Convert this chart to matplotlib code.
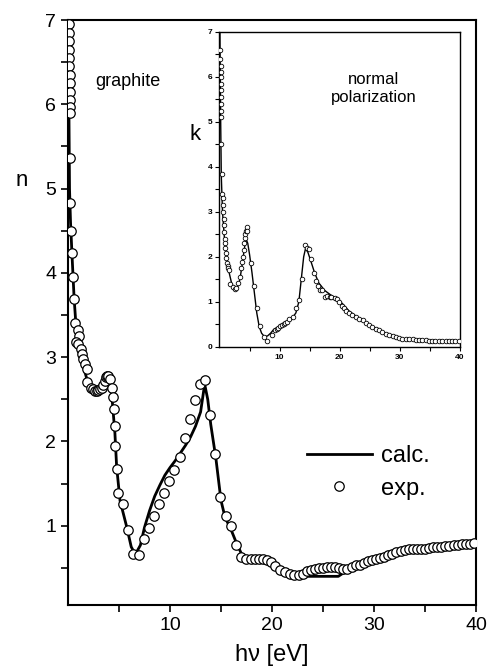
import matplotlib
matplotlib.use("Agg")
import matplotlib.pyplot as plt
from matplotlib.ticker import MultipleLocator, FixedLocator

plt.rcParams['font.family'] = ['Liberation Sans', 'DejaVu Sans']

# dados do painel principal: indice de refracao n
n_exp_x = [0.08, 0.10, 0.12, 0.12, 0.14, 0.13, 0.15, 0.15, 0.17, 0.17, 0.18, 0.18,
           0.16, 0.20, 0.29, 0.36, 0.46, 0.59, 0.68, 0.98, 1.07, 0.78, 1.00, 1.24,
           1.34, 1.50, 1.67, 1.83, 1.90, 2.30, 2.50, 2.65, 2.80, 2.97, 3.10, 3.30,
           3.45, 3.60, 3.70, 3.80, 3.95, 4.10, 4.35, 4.45, 4.48, 4.57, 4.64, 4.77,
           4.87, 5.40, 5.90, 6.40, 6.93, 7.42, 7.90, 8.43, 8.95, 9.44, 9.93, 10.42,
           10.95, 11.44, 11.93, 12.45, 12.94, 13.43, 13.95, 14.44, 14.93, 15.45,
           15.95, 16.47, 16.96, 17.45, 17.9, 18.3, 18.7, 19.1, 19.5, 19.9, 20.3,
           20.8, 21.3, 21.8, 22.2, 22.6, 23.0, 23.4, 23.8, 24.2, 24.6, 25.0, 25.4,
           25.8, 26.2, 26.6, 27.0, 27.4, 27.8, 28.2, 28.6, 29.0, 29.4, 29.8, 30.2,
           30.6, 31.0, 31.4, 31.8, 32.2, 32.6, 33.0, 33.4, 33.8, 34.2, 34.6, 35.0,
           35.4, 35.8, 36.2, 36.6, 37.0, 37.4, 37.8, 38.2, 38.6, 39.0, 39.4, 39.8]
n_exp_y = [6.95, 6.85, 6.75, 6.65, 6.55, 6.45, 6.35, 6.25, 6.15, 6.05, 5.97, 5.90,
           5.36, 4.83, 4.50, 4.24, 3.95, 3.69, 3.40, 3.32, 3.25, 3.18, 3.16, 3.10,
           3.04, 2.98, 2.92, 2.86, 2.70, 2.64, 2.62, 2.60, 2.60, 2.61, 2.62, 2.64,
           2.67, 2.72, 2.76, 2.78, 2.78, 2.74, 2.63, 2.53, 2.38, 2.18, 1.95, 1.67,
           1.39, 1.26, 0.95, 0.67, 0.65, 0.84, 0.97, 1.11, 1.26, 1.39, 1.53, 1.66,
           1.82, 2.04, 2.27, 2.49, 2.68, 2.73, 2.32, 1.85, 1.34, 1.11,
           1.00, 0.77, 0.63, 0.60, 0.61, 0.61, 0.60, 0.60, 0.59, 0.57, 0.52,
           0.47, 0.45, 0.43, 0.42, 0.42, 0.43, 0.46, 0.48, 0.49, 0.50, 0.50, 0.51,
           0.51, 0.51, 0.50, 0.49, 0.49, 0.51, 0.53, 0.54, 0.56, 0.58, 0.59, 0.60,
           0.62, 0.63, 0.65, 0.67, 0.69, 0.70, 0.71, 0.72, 0.72, 0.73, 0.73, 0.73,
           0.74, 0.75, 0.75, 0.75, 0.76, 0.76, 0.77, 0.77, 0.78, 0.78, 0.78, 0.79]

n_calc_x = [0.05, 0.10, 0.15, 0.25, 0.40, 0.60, 0.80, 1.00, 1.30, 1.60, 1.90, 2.30,
            2.80, 3.30, 3.70, 4.00, 4.28, 4.60, 4.77, 5.10, 5.75, 6.20, 6.60, 7.10,
            7.50, 8.00, 8.50, 9.00, 9.50, 10.0, 10.5, 11.0, 11.5, 12.0, 12.5, 13.0,
            13.4, 13.7, 14.0, 14.5, 15.0, 15.4, 16.0, 16.5, 17.0, 17.5, 18.0, 19.0,
            19.5, 20.0, 20.5, 21.0, 21.5, 22.0, 22.5, 23.0, 23.5, 26.5, 27.0, 27.5,
            28.0, 29.0, 30.0, 32.0, 34.0, 36.0, 38.0, 40.0]
n_calc_y = [7.50, 5.80, 5.00, 4.60, 4.20, 3.70, 3.35, 3.15, 3.00, 2.85, 2.72, 2.63,
            2.60, 2.63, 2.70, 2.72, 2.57, 2.10, 1.70, 1.30, 0.99, 0.75, 0.66, 0.77,
            0.98, 1.18, 1.35, 1.48, 1.60, 1.69, 1.77, 1.86, 1.95, 2.05, 2.18, 2.35,
            2.68, 2.50, 2.20, 1.80, 1.30, 1.10, 0.95, 0.80, 0.67, 0.61, 0.60, 0.60,
            0.59, 0.56, 0.50, 0.46, 0.44, 0.43, 0.42, 0.41, 0.40, 0.40, 0.44, 0.48,
            0.52, 0.56, 0.60, 0.69, 0.72, 0.75, 0.77, 0.79]

# dados do detalhe: coeficiente de extincao k
k_exp_x = [0.15, 0.15, 0.17, 0.18, 0.18, 0.20, 0.20, 0.22, 0.22, 0.25, 0.25, 0.30,
           0.35, 0.45, 0.55, 0.60, 0.65, 0.70, 0.75, 0.80, 0.85, 0.90, 0.95, 1.00,
           1.10, 1.26, 1.40, 1.48, 1.65, 1.76, 2.20, 2.60, 2.80, 3.10, 3.40, 3.60,
           3.80, 3.90, 4.00, 4.10, 4.20, 4.30, 4.40, 4.50, 4.60, 5.30, 5.80, 6.30,
           6.80, 7.40, 7.90, 8.70, 9.30, 9.60, 9.80, 10.1, 10.4, 10.7, 10.9, 11.2,
           11.6, 12.3, 12.8, 13.3, 13.8, 14.3, 14.6, 14.9, 15.2, 15.7, 16.1, 16.4,
           16.7, 17.0, 17.5, 17.9, 18.3, 18.6, 19.2, 19.6, 19.9, 20.3, 20.7, 21.1,
           21.6, 22.1, 22.7, 23.2, 23.8, 24.3, 24.9, 25.4, 26.0, 26.6, 27.1, 27.7,
           28.2, 28.8, 29.3, 29.9, 30.4, 31.0, 31.5, 32.1, 32.6, 33.2, 33.7, 34.3,
           34.8, 35.4, 35.9, 36.5, 37.0, 37.6, 38.1, 38.7, 39.2, 39.8]
k_exp_y = [6.60, 6.40, 6.25, 6.10, 6.00, 5.85, 5.70, 5.55, 5.40, 5.25, 5.10, 4.50,
           3.85, 3.40, 3.30, 3.15, 3.00, 2.85, 2.70, 2.55, 2.40, 2.30, 2.20, 2.08,
           1.97, 1.86, 1.80, 1.75, 1.70, 1.40, 1.32, 1.28, 1.30, 1.42, 1.56, 1.75,
           1.89, 2.00, 2.15, 2.30, 2.41, 2.50, 2.58, 2.66, 2.58, 1.86, 1.35, 0.86,
           0.45, 0.21, 0.13, 0.26, 0.37, 0.40, 0.42, 0.45, 0.48, 0.50, 0.53, 0.56,
           0.61, 0.67, 0.86, 1.04, 1.50, 2.26, 2.20, 2.17, 1.95, 1.63, 1.45, 1.35,
           1.26, 1.25, 1.11, 1.12, 1.10, 1.11, 1.08, 1.05, 1.00, 0.90, 0.86, 0.80,
           0.74, 0.70, 0.67, 0.62, 0.59, 0.53, 0.48, 0.44, 0.40, 0.37, 0.33, 0.29,
           0.26, 0.23, 0.21, 0.20, 0.18, 0.17, 0.17, 0.16, 0.15, 0.15, 0.14, 0.14,
           0.13, 0.13, 0.13, 0.13, 0.13, 0.13, 0.13, 0.13, 0.13, 0.13]

k_calc_x = [0.05, 0.10, 0.20, 0.30, 0.50, 0.80, 1.20, 1.60, 2.00, 2.40, 2.70, 3.00,
            3.40, 3.80, 4.10, 4.40, 4.70, 5.00, 5.40, 5.80, 6.20, 6.60, 7.00, 7.50,
            8.00, 8.50, 9.00, 10.0, 11.0, 12.0, 12.7, 13.2, 13.6, 14.0, 14.3, 14.7,
            15.2, 15.8, 16.5, 17.5, 18.5, 19.5, 20.5, 21.5, 22.5, 23.5, 25.0, 26.5,
            28.0, 30.0, 32.0, 35.0, 40.0]
k_calc_y = [7.50, 6.50, 5.00, 3.80, 3.00, 2.45, 2.00, 1.65, 1.42, 1.30, 1.27, 1.32,
            1.50, 1.85, 2.15, 2.40, 2.30, 2.05, 1.65, 1.20, 0.75, 0.45, 0.30, 0.22,
            0.24, 0.30, 0.38, 0.45, 0.53, 0.62, 0.75, 1.00, 1.50, 2.00, 2.18, 2.10,
            1.90, 1.65, 1.42, 1.25, 1.15, 1.07, 0.95, 0.80, 0.70, 0.60, 0.48, 0.37,
            0.27, 0.19, 0.15, 0.13, 0.12]

fig = plt.figure(figsize=(4.87, 6.72), dpi=100)

# painel principal
ax = fig.add_axes([0.1396, 0.0997, 0.8378, 0.8705])
ax.plot(n_calc_x, n_calc_y, color="black", lw=2.0, label="calc.", zorder=2)
ax.plot(n_exp_x, n_exp_y, "o", mfc="white", mec="black", mew=0.9, ms=6.8,
        label="exp.", zorder=3)
ax.set_xlim(0, 40)
ax.set_ylim(0.06, 7)
ax.xaxis.set_major_locator(FixedLocator([10, 20, 30, 40]))
ax.xaxis.set_minor_locator(FixedLocator([5, 15, 25, 35]))
ax.yaxis.set_major_locator(FixedLocator([1, 2, 3, 4, 5, 6, 7]))
ax.yaxis.set_minor_locator(MultipleLocator(0.5))
ax.tick_params(which="both", direction="out", top=False, right=False,
               labelsize=14, width=1.2, length=5)
for s in ax.spines.values():
    s.set_linewidth(1.5)
ax.set_xlabel("h\u03bd [eV]", fontsize=17, labelpad=7)
ax.set_ylabel("n", fontsize=16, rotation=0, va="center", ha="center")
ax.yaxis.set_label_coords(-0.113, 0.726)
ax.text(0.066, 0.887, "graphite", transform=ax.transAxes, fontsize=13,
        va="baseline")
ax.legend(loc="center left", bbox_to_anchor=(0.585, 0.227), frameon=False,
          fontsize=17, handlelength=2.75, handletextpad=0.4, numpoints=1,
          borderpad=0, borderaxespad=0, labelspacing=0.45)

# detalhe
ins = fig.add_axes([0.4507, 0.4841, 0.4939, 0.4683])
ins.plot(k_calc_x, k_calc_y, color="black", lw=1.0, zorder=2)
ins.plot(k_exp_x, k_exp_y, "o", mfc="white", mec="black", mew=0.6, ms=3.3, zorder=3)
ins.set_xlim(0, 40)
ins.set_ylim(0, 7)
ins.xaxis.set_major_locator(FixedLocator([10, 20, 30, 40]))
ins.xaxis.set_minor_locator(FixedLocator([5, 15, 25, 35]))
ins.yaxis.set_major_locator(MultipleLocator(1))
ins.yaxis.set_minor_locator(MultipleLocator(0.5))
ins.tick_params(which="both", direction="out", top=False, right=False,
                labelsize=6, width=0.8, length=3, pad=2)
for s in ins.spines.values():
    s.set_linewidth(1.0)
for lab in ins.get_xticklabels() + ins.get_yticklabels():
    lab.set_fontweight("bold")
ins.set_ylabel("k", fontsize=16, rotation=0, va="center", ha="center")
ins.yaxis.set_label_coords(-0.10, 0.673)
ins.text(0.64, 0.82, "normal\npolarization", transform=ins.transAxes,
         fontsize=12, ha="center", va="center", linespacing=1.25)

fig.savefig("out.png", dpi=100)
